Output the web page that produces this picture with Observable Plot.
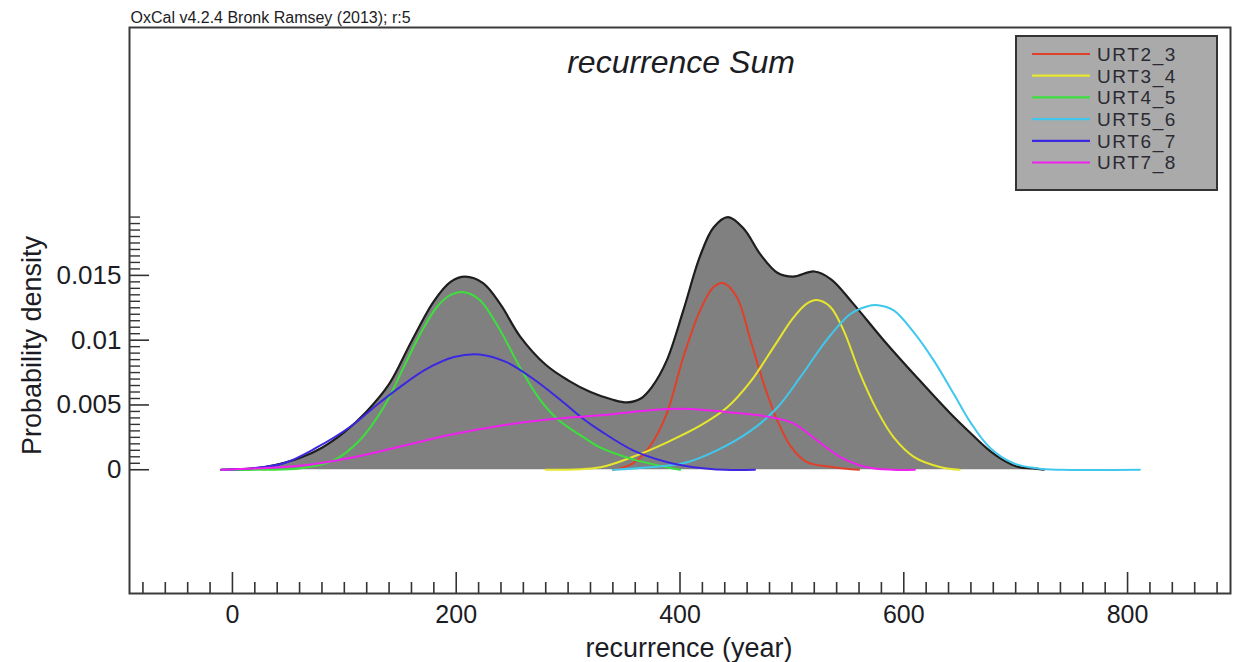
<!DOCTYPE html>
<html>
<head>
<meta charset="utf-8">
<script src="https://cdn.jsdelivr.net/npm/d3@7"></script>
<script src="https://cdn.jsdelivr.net/npm/@observablehq/plot@0.6"></script>
<style>
  html, body { margin: 0; padding: 0; background: #ffffff; }
  #chart { width: 1234px; height: 662px; }
</style>
</head>
<body>
<div id="chart"></div>
<script>
// ---- data ----
const seriesNames = ["URT2_3", "URT3_4", "URT4_5", "URT5_6", "URT6_7", "URT7_8"];
const seriesColors = ["#e0402a", "#e6e62c", "#3ce03c", "#40c8ec", "#3c28e0", "#f020f0"];

const sumYear = [-10, 20, 40, 60, 80, 100, 120, 140, 160, 180, 195, 208, 224, 240, 257, 280, 300, 320, 340, 353, 365, 375, 388, 403, 418, 430, 443, 457, 472, 487, 501, 520, 535, 555, 582, 612, 641, 660, 675, 690, 703, 715, 725];
const sumDensity = [0, 0.0001, 0.0004, 0.0009, 0.0017, 0.0029, 0.0045, 0.0066, 0.0099, 0.0130, 0.0145, 0.0149, 0.0144, 0.0127, 0.0103, 0.0081, 0.0069, 0.0060, 0.0054, 0.0052, 0.0055, 0.0064, 0.0084, 0.0123, 0.0165, 0.0187, 0.0195, 0.0186, 0.0166, 0.0152, 0.0149, 0.0153, 0.0147, 0.0128, 0.0100, 0.0071, 0.0044, 0.0028, 0.0016, 0.0007, 0.0002, 0.0001, 0];

const redYear = [340, 358, 373, 388, 403, 418, 430, 439, 451, 463, 475, 487, 499, 513, 537, 560];
const redDensity = [0, 0.0005, 0.0018, 0.0043, 0.0087, 0.0123, 0.0141, 0.0144, 0.0133, 0.0100, 0.0066, 0.0038, 0.0018, 0.0006, 0.0002, 0];

const yellowYear = [280, 329, 358, 388, 418, 442, 463, 484, 501, 513, 522, 534, 546, 561, 576, 591, 609, 633, 650];
const yellowDensity = [0, 0.0002, 0.0010, 0.0021, 0.0034, 0.0048, 0.0068, 0.0095, 0.0117, 0.0128, 0.0131, 0.0126, 0.0108, 0.0074, 0.0046, 0.0025, 0.0010, 0.0002, 0];

const greenYear = [-10, 30, 60, 90, 114, 135, 153, 168, 183, 195, 207, 221, 239, 257, 275, 292, 314, 329, 358, 388, 400];
const greenDensity = [0, 0, 0.0001, 0.0007, 0.0023, 0.0048, 0.0079, 0.0105, 0.0126, 0.0135, 0.0137, 0.0131, 0.0108, 0.0079, 0.0054, 0.0038, 0.0025, 0.0017, 0.0008, 0.0002, 0];

const cyanYear = [340, 373, 403, 433, 463, 487, 508, 531, 552, 567, 577, 591, 609, 627, 645, 660, 677, 698, 720, 740, 811];
const cyanDensity = [0, 0.0002, 0.0005, 0.0015, 0.0030, 0.0048, 0.0072, 0.0100, 0.0120, 0.0126, 0.0127, 0.0123, 0.0106, 0.0084, 0.0058, 0.0036, 0.0017, 0.0005, 0.0001, 0, 0];

const blueYear = [-10, 16, 46, 75, 105, 129, 150, 174, 198, 221, 245, 269, 293, 314, 329, 358, 388, 412, 440, 467];
const blueDensity = [0, 0.0001, 0.0005, 0.0017, 0.0033, 0.0050, 0.0064, 0.0078, 0.0087, 0.0089, 0.0083, 0.0070, 0.0054, 0.0039, 0.0030, 0.0015, 0.0006, 0.0002, 0, 0];

const magentaYear = [-10, 20, 60, 105, 150, 195, 239, 284, 329, 373, 403, 448, 478, 501, 522, 543, 567, 590, 610];
const magentaDensity = [0, 0.0001, 0.0003, 0.0009, 0.0018, 0.0027, 0.0034, 0.0039, 0.0042, 0.0046, 0.0047, 0.0044, 0.0041, 0.0036, 0.0023, 0.0010, 0.0002, 0, 0];

const xTickLabels = [0, 200, 400, 600, 800];
const yTickLabels = [0, 0.005, 0.01, 0.015];

const titleText = "recurrence Sum";
const creditText = "OxCal v4.2.4 Bronk Ramsey (2013); r:5";
const xTitle = "recurrence (year)";
const yTitle = "Probability density";

// ---- build tables ----
const sumRows = sumYear.map((year, i) => ({year, density: sumDensity[i]}));
const seriesYears = [redYear, yellowYear, greenYear, cyanYear, blueYear, magentaYear];
const seriesDens = [redDensity, yellowDensity, greenDensity, cyanDensity, blueDensity, magentaDensity];
const rows = seriesNames.flatMap((name, s) =>
  seriesYears[s].map((year, i) => ({series: name, year, density: seriesDens[s][i]})));

// ---- layout ----
const W = 1234, H = 662;
const mL = 129, mR = 4, mT = 27, mB = 69;
const frameW = W - mL - mR, frameH = H - mT - mB;
const font = "Liberation Sans, Arial, Helvetica, sans-serif";
const ink = "#1c1c24";
const curve = "catmull-rom";

const xMinor = d3.range(-80, 881, 20).filter(v => v % 200 !== 0);
const yMinor = d3.range(0, 40).map(i => +(i * 0.0005).toFixed(4)).filter(v => Math.abs(v / 0.005 - Math.round(v / 0.005)) > 1e-6);

const chart = Plot.plot({
  width: W,
  height: H,
  marginLeft: mL,
  marginRight: mR,
  marginTop: mT,
  marginBottom: mB,
  style: {fontFamily: font, background: "#ffffff", overflow: "visible"},
  x: {domain: [-92, 892], axis: null},
  y: {domain: [-0.00955, 0.03413], axis: null},
  color: {domain: seriesNames, range: seriesColors},
  marks: [
    Plot.areaY(sumRows, {x: "year", y: "density", fill: "#808080", curve}),
    Plot.line(sumRows, {x: "year", y: "density", stroke: "#1e1e1e", strokeWidth: 2.2, curve}),
    Plot.line(rows, {x: "year", y: "density", z: "series", stroke: "series", strokeWidth: 2, curve}),
    // x ticks (pointing up from the bottom edge)
    Plot.tickX(xMinor, {x: d => d, stroke: "#333", strokeWidth: 1.6, insetTop: frameH - 11}),
    Plot.tickX(xTickLabels, {x: d => d, stroke: "#333", strokeWidth: 1.6, insetTop: frameH - 21}),
    // y ticks (pointing right from the left edge)
    Plot.tickY(yMinor, {y: d => d, stroke: "#333", strokeWidth: 1.4, insetRight: frameW - 11}),
    Plot.tickY(yTickLabels, {y: d => d, stroke: "#333", strokeWidth: 1.6, insetRight: frameW - 20}),
    Plot.frame({stroke: "#3a3a3a", strokeWidth: 2}),
    // tick labels
    Plot.text(xTickLabels, {x: d => d, text: d => String(d), frameAnchor: "bottom", dy: 21, lineAnchor: "middle", fontSize: 25, fill: ink, fontFamily: font}),
    Plot.text(yTickLabels, {y: d => d, text: d => String(d), frameAnchor: "left", dx: -8, textAnchor: "end", fontSize: 26, fill: ink, fontFamily: font}),
    // titles
    Plot.text([yTitle], {text: d => d, frameAnchor: "left", textAnchor: "middle", lineAnchor: "middle", dx: -97, dy: 35, rotate: -90, fontSize: 27, fill: ink, fontFamily: font}),
    Plot.text([xTitle], {text: d => d, frameAnchor: "bottom", textAnchor: "middle", dx: 9, dy: 55, lineAnchor: "middle", fontSize: 27, fill: ink, fontFamily: font}),
    Plot.text([titleText], {text: d => d, frameAnchor: "top", textAnchor: "middle", dx: 1, dy: 35, lineAnchor: "middle", fontSize: 32, fontStyle: "italic", fill: ink, fontFamily: font}),
    Plot.text([creditText], {text: d => d, frameAnchor: "top-left", dx: 1, dy: -10, lineAnchor: "middle", textAnchor: "start", fontSize: 16, fill: ink, fontFamily: font})
  ]
});

document.getElementById("chart").appendChild(chart);

// ---- legend box inside the frame (top-right) ----
const svg = d3.select(chart);
const lg = svg.append("g").attr("class", "legend").attr("text-anchor", "start");
lg.append("rect")
  .attr("x", 1016).attr("y", 36).attr("width", 201).attr("height", 154)
  .attr("fill", "#aaaaaa").attr("stroke", "#333").attr("stroke-width", 2);
seriesNames.forEach((name, i) => {
  const y = 54 + 21.7 * i;
  lg.append("line")
    .attr("x1", 1032).attr("x2", 1090).attr("y1", y).attr("y2", y)
    .attr("stroke", seriesColors[i]).attr("stroke-width", 2.2);
  lg.append("text")
    .attr("x", 1097).attr("y", y).attr("dy", "0.36em")
    .attr("text-anchor", "start")
    .attr("font-family", font).attr("font-size", 19).attr("letter-spacing", "1.6px").attr("fill", "#2a2a33")
    .text(name);
});
</script>
</body>
</html>
